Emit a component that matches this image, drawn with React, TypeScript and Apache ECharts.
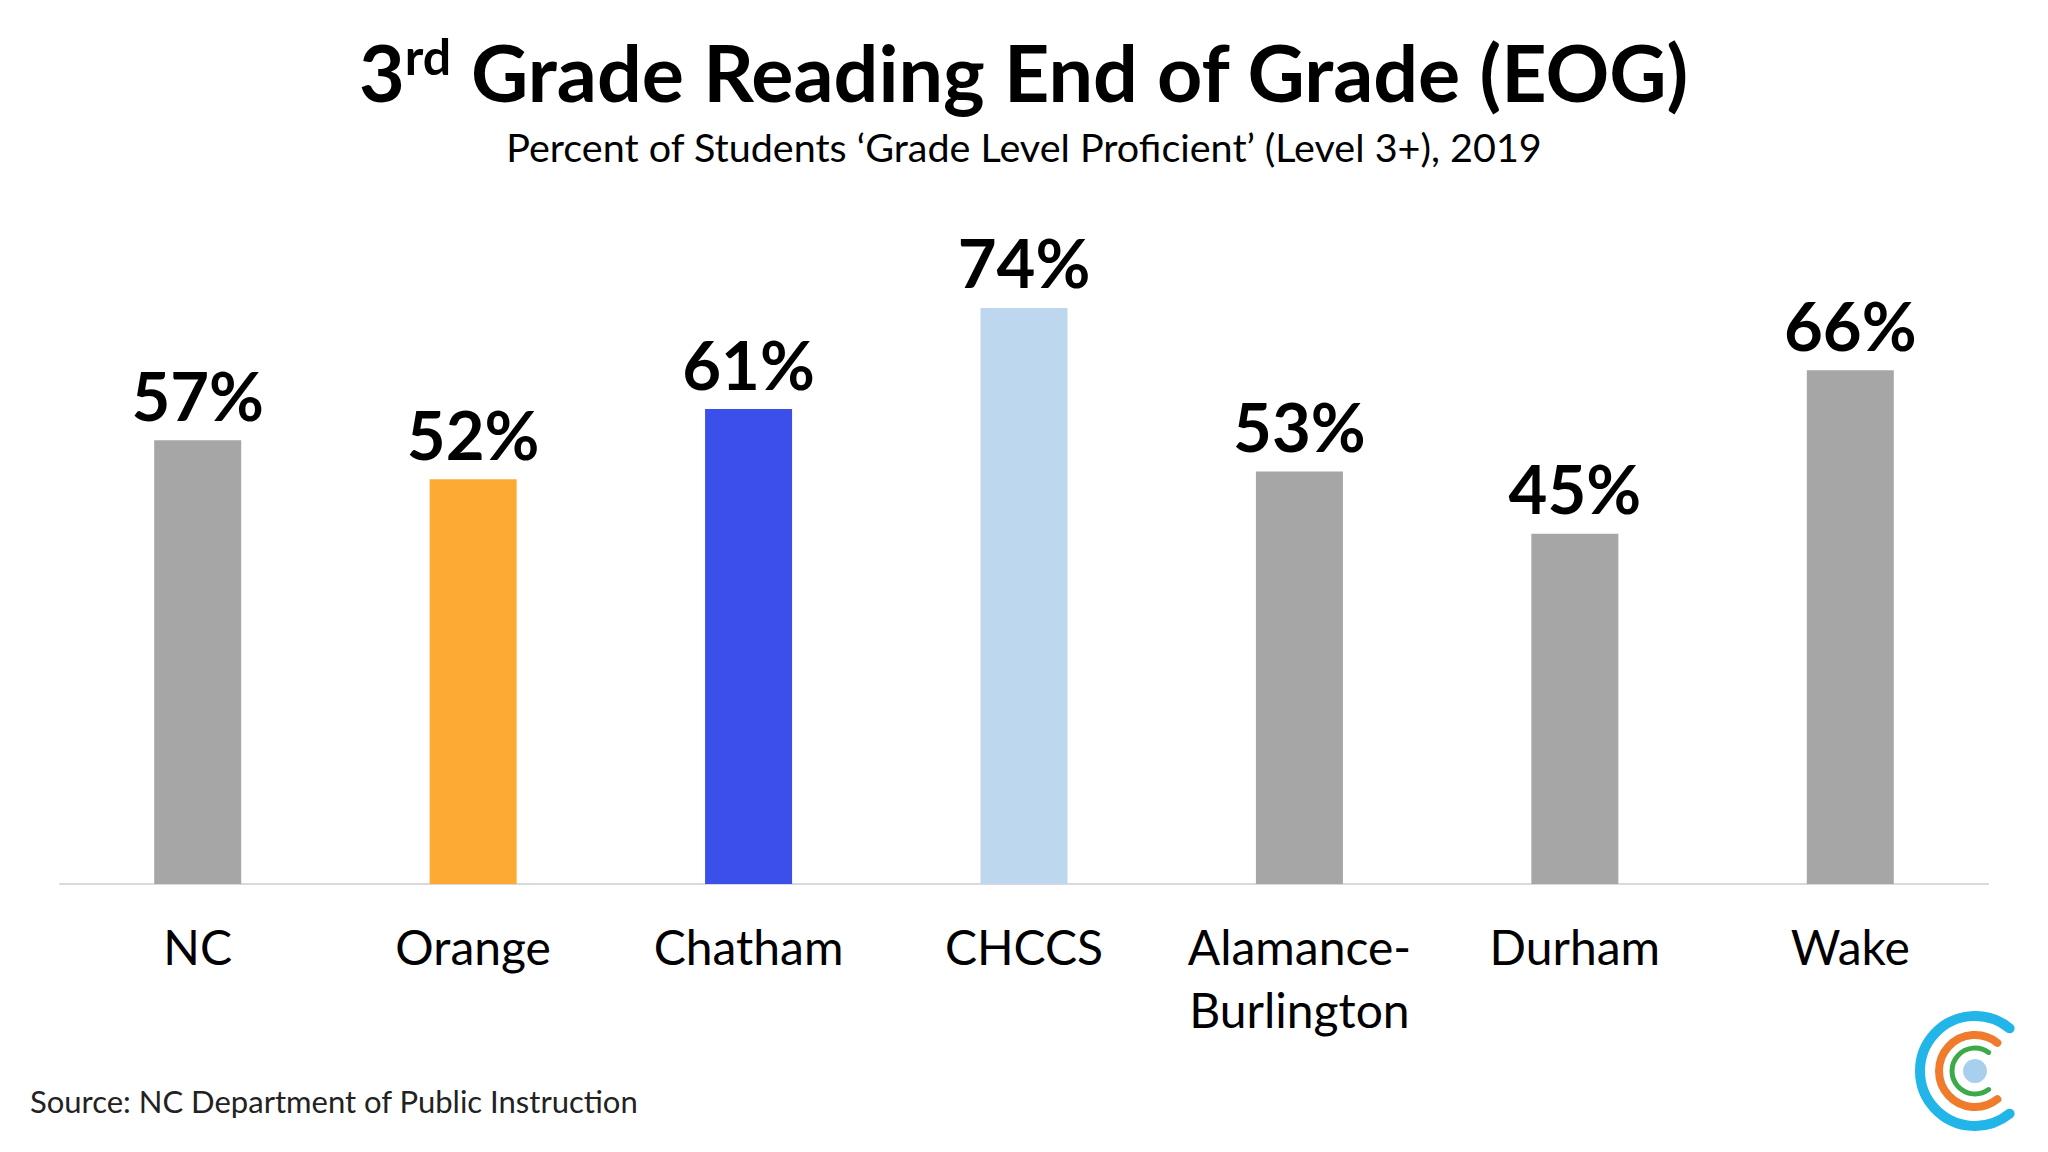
import React, { useEffect, useRef } from "react";
import * as echarts from "echarts";

const categories = ["NC", "Orange", "Chatham", "CHCCS", "Alamance-\nBurlington", "Durham", "Wake"];
const values = [57, 52, 61, 74, 53, 45, 66];
const barColors = ["#A6A6A6", "#FDAA35", "#3B4FEA", "#BDD7EE", "#A6A6A6", "#A6A6A6", "#A6A6A6"];

const titleMain = "3";
const titleSup = "rd";
const titleRest = " Grade Reading End of Grade (EOG)";
const subtitle = "Percent of Students \u2018Grade Level Proficient\u2019 (Level 3+), 2019";
const source = "Source: NC Department of Public Instruction";

const FONT = "Lato, 'Open Sans', sans-serif";

export default function App() {
  const ref = useRef<HTMLDivElement>(null);
  useEffect(() => {
    if (!ref.current) return;
    const chart = echarts.init(ref.current, undefined, { renderer: "svg" });
    const logoCx = 1975;
    const logoCy = 1071;
    chart.setOption({
      animation: false,
      backgroundColor: "#ffffff",
      grid: { left: 60, right: 60, top: 105.5, bottom: 268, containLabel: false },
      xAxis: {
        type: "category",
        data: categories,
        axisLine: { show: true, lineStyle: { color: "#D9D9D9", width: 2 } },
        axisTick: { show: false },
        axisLabel: {
          interval: 0,
          color: "#000",
          fontFamily: FONT,
          fontSize: 48,
          lineHeight: 63,
          margin: 31,
        },
      },
      yAxis: { type: "value", min: 0, max: 100, show: false, splitLine: { show: false } },
      series: [
        {
          type: "bar",
          barWidth: 87,
          data: values.map((v, i) => ({ value: v, itemStyle: { color: barColors[i] } })),
          label: {
            show: true,
            position: "top",
            distance: 12,
            formatter: "{c}%",
            color: "#000",
            fontFamily: FONT,
            fontWeight: "bold",
            fontSize: 67,
          },
        },
      ],
      graphic: [
        {
          type: "text",
          x: 1024,
          y: 71,
          style: {
            text: `{m|${titleMain}}{s|${titleSup}}{m|${titleRest}}`,
            textAlign: "center",
            textVerticalAlign: "middle",
            fontFamily: FONT,
            fontWeight: "bold",
            fontSize: 79,
            fill: "#000",
            rich: {
              m: { fontFamily: FONT, fontWeight: "bold", fontSize: 79, fill: "#000" },
              s: { fontFamily: FONT, fontWeight: "bold", fontSize: 50, fill: "#000", padding: [0, 0, 31, 0] },
            },
          },
        },
        {
          type: "text",
          x: 1024,
          y: 146,
          style: {
            text: subtitle,
            textAlign: "center",
            textVerticalAlign: "middle",
            fontFamily: FONT,
            fontSize: 39.5,
            fill: "#000",
          },
        },
        {
          type: "text",
          x: 30,
          y: 1101,
          style: {
            text: source,
            textAlign: "left",
            textVerticalAlign: "middle",
            fontFamily: FONT,
            fontSize: 31,
            fill: "#222",
          },
        },
        {
          type: "arc",
          shape: { cx: logoCx, cy: logoCy, r: 55, startAngle: 0.89, endAngle: 2 * Math.PI - 0.89, clockwise: true },
          style: { stroke: "#22B5E8", lineWidth: 10, fill: "none", lineCap: "round" },
        },
        {
          type: "arc",
          shape: { cx: logoCx, cy: logoCy, r: 36, startAngle: 0.9, endAngle: 2 * Math.PI - 0.9, clockwise: true },
          style: { stroke: "#EF7B2D", lineWidth: 8, fill: "none", lineCap: "round" },
        },
        {
          type: "arc",
          shape: { cx: logoCx, cy: logoCy, r: 23, startAngle: 0.94, endAngle: 2 * Math.PI - 0.94, clockwise: true },
          style: { stroke: "#3BAA48", lineWidth: 5, fill: "none", lineCap: "round" },
        },
        {
          type: "circle",
          shape: { cx: logoCx, cy: logoCy, r: 12 },
          style: { fill: "#A9CFEE" },
        },
      ],
    });
    return () => chart.dispose();
  }, []);
  return (
    <div
      ref={ref}
      style={{ position: "fixed", left: 0, top: 0, width: 2048, height: 1152, background: "#fff" }}
    />
  );
}
